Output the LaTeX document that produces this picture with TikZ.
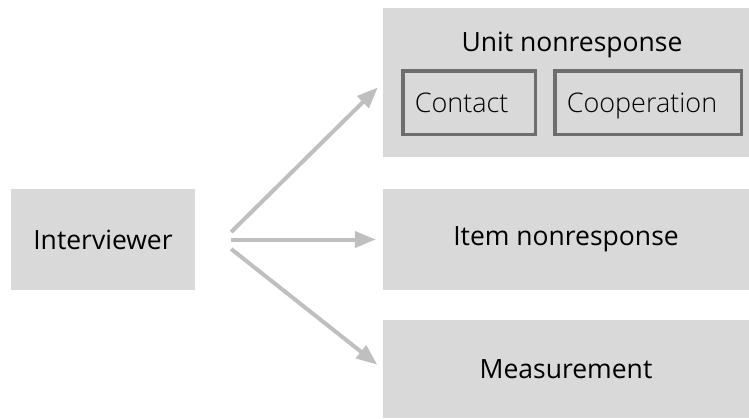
\documentclass[tikz,border=0pt]{standalone}
\usepackage{fontspec}
\setmainfont{Open Sans}
\newfontfamily\lightfont{Open Sans Light}
\usetikzlibrary{arrows.meta, positioning}
\definecolor{boxgray}{RGB}{217,217,217}
\definecolor{arrowgray}{RGB}{191,191,191}
\definecolor{framegray}{RGB}{109,109,109}

\begin{document}
\begin{tikzpicture}[
  x=1pt, y=-1pt,
  greybox/.style={rectangle, fill=boxgray, inner sep=0pt, font=\fontsize{26.5}{30}\selectfont},
  subbox/.style={rectangle, draw=framegray, line width=3.5pt, fill=boxgray, inner xsep=12pt, inner ysep=0pt, align=left, minimum height=63.5pt, text height=19.5pt, text depth=0pt, font=\lightfont\fontsize{27}{30}\selectfont},
  arr/.style={-{Triangle[length=21pt,width=16pt]}, draw=arrowgray, line width=4pt, shorten >=7pt}
]
\useasboundingbox (0,0) rectangle (749,418);
\node[greybox, minimum width=184pt, minimum height=101pt] (iv) at (103,239.5) {Interviewer};
\node[greybox, minimum width=366pt, minimum height=149pt] (unit) at (566,82.5) {};
\node[greybox, minimum width=366pt, minimum height=101pt] (item) at (566,239.5) {Item nonresponse};
\node[greybox, minimum width=366pt, minimum height=98pt] (meas) at (566,369) {Measurement};
% inside the unit box
\node[font=\fontsize{26.5}{30}\selectfont] (unittitle) at (572,45) {Unit nonresponse};
\node[subbox, text width=108.5pt] (contact) at (469,102.5) {Contact};
\node[subbox, text width=162.5pt] (coop) at (648,102.5) {Cooperation};
% fan of arrows
\coordinate[right=36pt of iv.east, yshift=7.5pt] (fanup);
\coordinate[right=36pt of iv.east] (fanmid);
\coordinate[right=36pt of iv.east, yshift=-9.5pt] (fanlow);
\draw[arr] (fanup) -- (unit.west);
\draw[arr] (fanmid) -- (item.west);
\draw[arr] (fanlow) -- (meas.west);
\end{tikzpicture}
\end{document}
